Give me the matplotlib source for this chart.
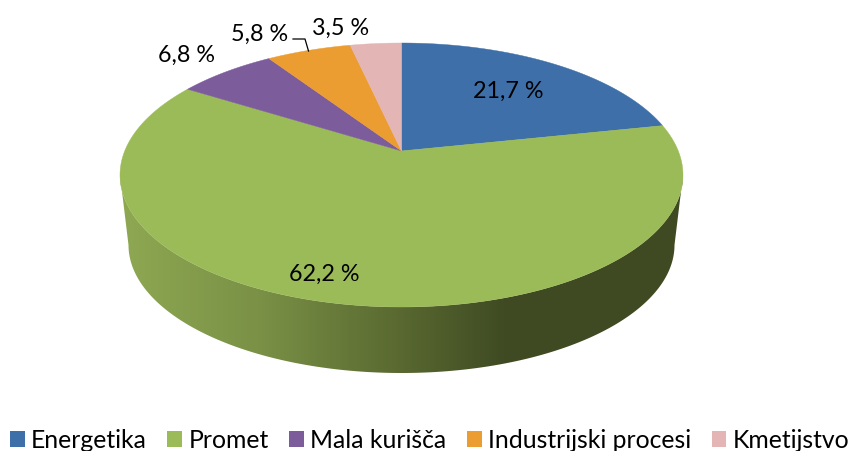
import matplotlib
matplotlib.use("Agg")
import matplotlib.pyplot as plt
from matplotlib.colors import LinearSegmentedColormap
from matplotlib.patches import Patch, Polygon
import numpy as np

plt.rcParams['font.family'] = ['Lato', 'DejaVu Sans']

categories = ["Energetika", "Promet", "Mala kurišča", "Industrijski procesi", "Kmetijstvo"]
shares = [21.7, 62.2, 6.8, 5.8, 3.5]
share_labels = ["21,7 %", "62,2 %", "6,8 %", "5,8 %", "3,5 %"]
colors = ["#3e6fa8", "#9bbb59", "#7d5c9b", "#eb9d32", "#e4b5b5"]

# pie geometry in picture pixels
CX, CY, RX, RY = 401.5, 175, 281.5, 132
BOTTOM_CY, BOTTOM_RX, BOTTOM_RY = 245, 273, 128
TILT = 0.182


def project(theta):
    # perspective of the top disc, theta clockwise from 12 o'clock
    x, y = np.sin(theta), np.cos(theta)
    d = 1 + TILT * y
    return CX + RX * x * np.sqrt(1 - TILT ** 2) / d, CY - RY * (y + TILT) / d


fig = plt.figure(figsize=(8.51, 4.51), dpi=100)
ax = fig.add_axes([0, 0, 1, 1])
ax.set_xlim(0, 851)
ax.set_ylim(451, 0)
ax.axis("off")

# side wall with its dark to the right
t = np.linspace(0, np.pi, 200)
wall_x = np.concatenate([CX + RX * np.cos(t), CX + BOTTOM_RX * np.cos(t[::-1])])
wall_y = np.concatenate([CY + RY * np.sin(t), BOTTOM_CY + BOTTOM_RY * np.sin(t[::-1])])
wall = Polygon(np.column_stack([wall_x, wall_y]), closed=True, facecolor="none", edgecolor="none")
ax.add_patch(wall)
cmap = LinearSegmentedColormap.from_list("wall", [(0, "#8ea852"), (0.245, "#7a9146"), (0.49, "#5a6a31"),
                                                  (0.68, "#404b23"), (1, "#3f4a22")])
img = ax.imshow(np.linspace(0, 1, 256)[None, :], cmap=cmap, extent=(120, 683, 380, 170), aspect="auto")
img.set_clip_path(wall)
ax.set_xlim(0, 851)
ax.set_ylim(451, 0)

# top of the pie
edges = np.cumsum([0] + shares) / 100 * 2 * np.pi
for start, stop, color in zip(edges[:-1], edges[1:], colors):
    th = np.linspace(start, stop, 150)
    px, py = project(th)
    apex_x, apex_y = CX, CY - RY * TILT
    ax.fill(np.r_[apex_x, px], np.r_[apex_y, py], color=color, lw=0.3)

# value labels
label_x = [508, 324, 187, 260, 341]
label_y = [91, 274, 55, 34, 28]
for x, y, text in zip(label_x, label_y, share_labels):
    ax.text(x, y, text, fontsize=16.8, ha="center", va="center", color="black")
ax.plot([293, 305, 308.5], [39, 39, 51], color="black", lw=0.9)

handles = [Patch(facecolor=c, edgecolor="none") for c in colors]
ax.legend(handles, categories, ncols=5, loc="lower left", bbox_to_anchor=(10 / 851, -1 / 451),
          frameon=False, fontsize=17.8, handlelength=0.6, handleheight=0.6, handletextpad=0.25,
          columnspacing=0.83, borderpad=0, borderaxespad=0)

fig.savefig("out.png", dpi=100)
